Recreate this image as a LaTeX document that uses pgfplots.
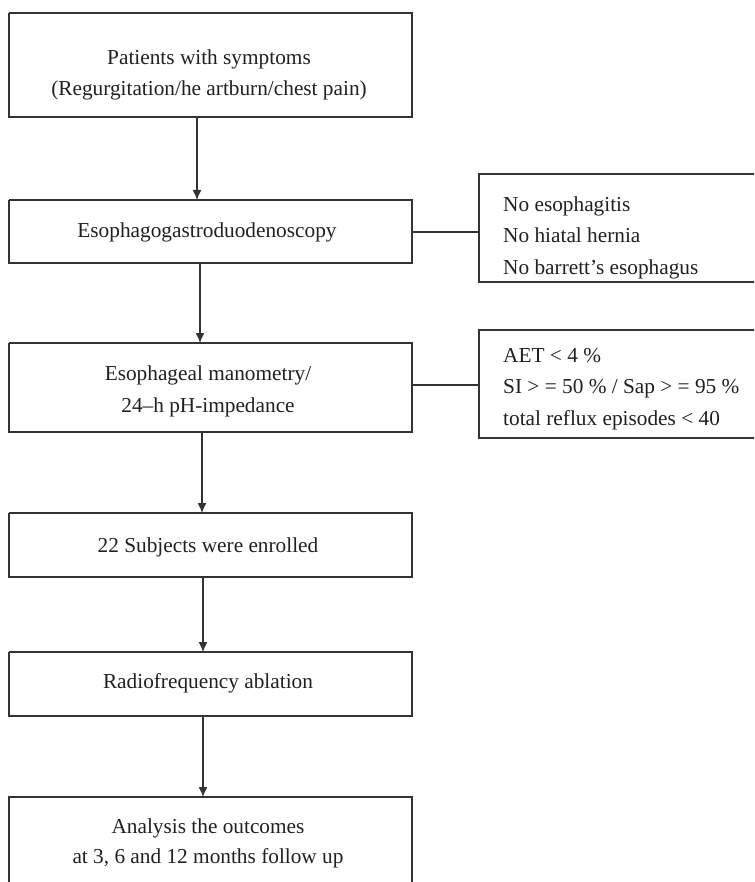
\documentclass[border=0pt]{standalone}
\usepackage{pgfplots}
\pgfplotsset{compat=1.18}
\usetikzlibrary{arrows.meta}
\usepackage{fontspec}
\setmainfont{Liberation Serif}
\definecolor{ln}{HTML}{333333}
\definecolor{tx}{HTML}{231F20}
\tikzset{bx/.style={draw=ln, color=ln, line width=1.3pt, solid, mark=none},
         ar/.style={bx, -{Latex[length=10pt,width=9pt]}}}
\begin{document}
\begin{tikzpicture}
\begin{axis}[
  width=754pt, height=882pt, scale only axis,
  xmin=0, xmax=754, ymin=0, ymax=882, y dir=reverse,
  hide axis, clip=true,
  nodes={font=\fontsize{21.3}{24}\selectfont, text=tx, inner sep=0pt},
]
% main boxes
\addplot[bx] coordinates {(9,13) (412,13) (412,117) (9,117) (9,13)};
\addplot[bx] coordinates {(9,200) (412,200) (412,263) (9,263) (9,200)};
\addplot[bx] coordinates {(9,343) (412,343) (412,432) (9,432) (9,343)};
\addplot[bx] coordinates {(9,513) (412,513) (412,577) (9,577) (9,513)};
\addplot[bx] coordinates {(9,652) (412,652) (412,716) (9,716) (9,652)};
\addplot[bx] coordinates {(9,900) (9,797) (412,797) (412,900)};
% side boxes
\addplot[bx] coordinates {(770,174) (479,174) (479,282) (770,282)};
\addplot[bx] coordinates {(770,330) (479,330) (479,438) (770,438)};
% connectors
\addplot[bx] coordinates {(412,232) (479,232)};
\addplot[bx] coordinates {(412,385) (479,385)};
% arrows
\addplot[ar] coordinates {(197,117) (197,200)};
\addplot[ar] coordinates {(200,263) (200,343)};
\addplot[ar] coordinates {(202,432) (202,513)};
\addplot[ar] coordinates {(203,577) (203,652)};
\addplot[ar] coordinates {(203,716) (203,797)};
% texts
\node[anchor=base] at (axis cs:209,65) {Patients with symptoms};
\node[anchor=base] at (axis cs:209,96) {(Regurgitation/he artburn/chest pain)};
\node[anchor=base] at (axis cs:207,238) {Esophagogastroduodenoscopy};
\node[anchor=base] at (axis cs:208,380) {Esophageal manometry/};
\node[anchor=base] at (axis cs:208,412) {24–h pH-impedance};
\node[anchor=base] at (axis cs:208,552) {22 Subjects were enrolled};
\node[anchor=base] at (axis cs:208,688) {Radiofrequency ablation};
\node[anchor=base] at (axis cs:208,833) {Analysis the outcomes};
\node[anchor=base] at (axis cs:208,863) {at 3, 6 and 12 months follow up};
\node[anchor=base west] at (axis cs:503,212) {No esophagitis};
\node[anchor=base west] at (axis cs:503,243) {No hiatal hernia};
\node[anchor=base west] at (axis cs:503,275) {No barrett’s esophagus};
\node[anchor=base west] at (axis cs:503,362) {AET < 4 \%};
\node[anchor=base west] at (axis cs:503,393) {SI > = 50 \% / Sap > = 95 \%};
\node[anchor=base west] at (axis cs:503,425) {total reflux episodes < 40};
\end{axis}
\pgfresetboundingbox
\useasboundingbox (current axis.south west) rectangle (current axis.north east);
\end{tikzpicture}
\end{document}
